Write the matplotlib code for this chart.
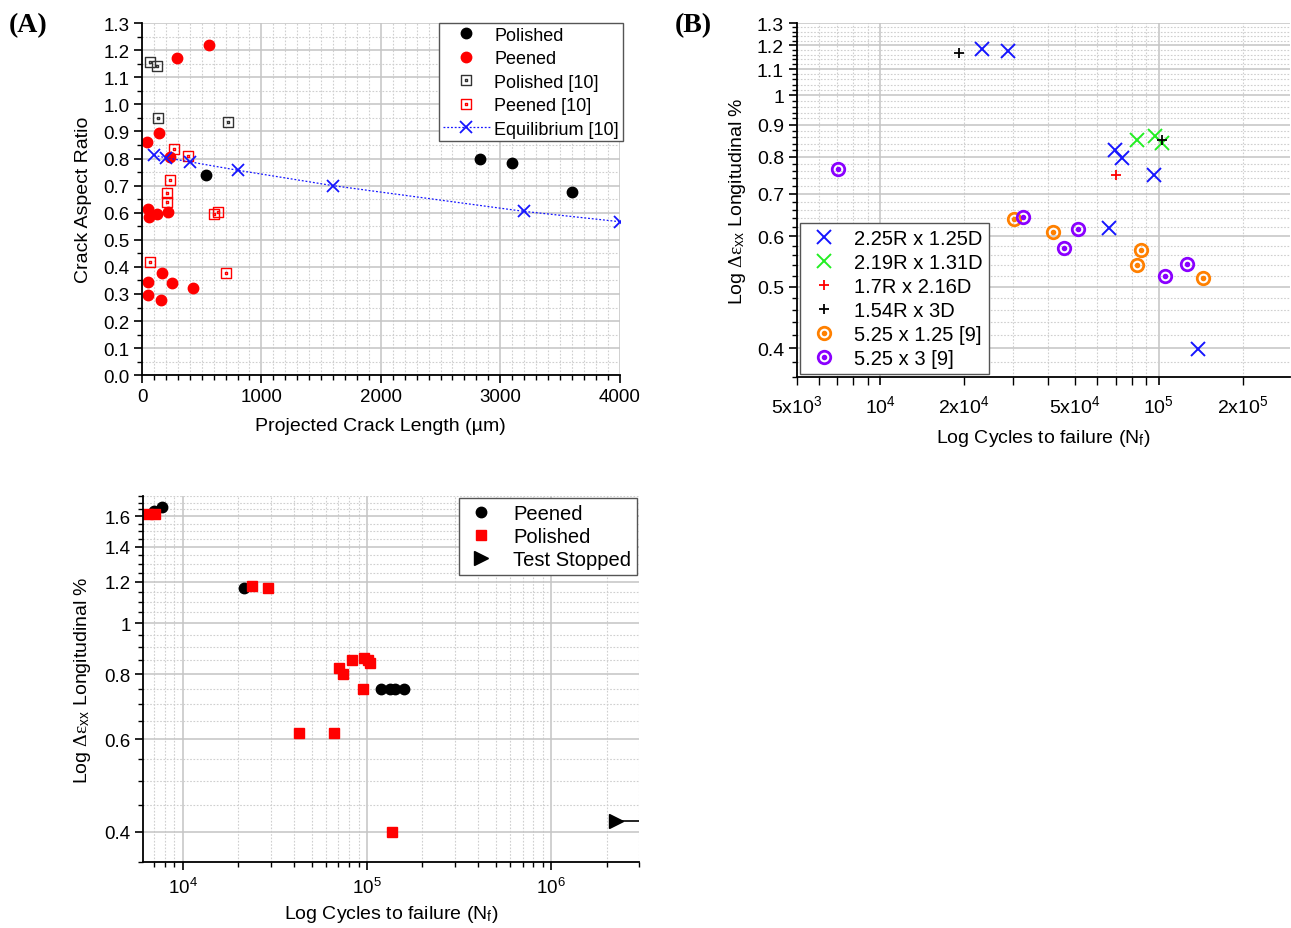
import numpy as np
import matplotlib
matplotlib.use("Agg")
import matplotlib.pyplot as plt
from matplotlib.path import Path
from matplotlib.ticker import MultipleLocator, NullFormatter

plt.rcParams['font.family'] = ['Liberation Sans', 'DejaVu Sans']
plt.rcParams['mathtext.fontset'] = 'custom'
plt.rcParams['mathtext.rm'] = 'Liberation Serif'
plt.rcParams['mathtext.it'] = 'Liberation Serif:italic'

# ---- panel A: crack aspect ratio vs projected crack length ----
pol_len = [536, 2830, 3100, 3600]
pol_ar = [0.74, 0.797, 0.783, 0.675]

pee_len = [561, 293, 145, 39, 234, 47, 59, 126, 220, 53, 47, 167, 254, 156, 424]
pee_ar = [1.22, 1.17, 0.893, 0.86, 0.807, 0.612, 0.586, 0.597, 0.604, 0.345,
          0.296, 0.377, 0.342, 0.276, 0.322]

pol10_len = [70, 123, 134, 717]
pol10_ar = [1.157, 1.143, 0.948, 0.934]

pee10_len = [268, 382, 234, 206, 206, 600, 636, 70, 703]
pee10_ar = [0.834, 0.81, 0.722, 0.673, 0.638, 0.597, 0.602, 0.418, 0.378]

eq_len = [100, 200, 400, 800, 1600, 3200, 4000]
eq_ar = [0.812, 0.803, 0.788, 0.757, 0.70, 0.605, 0.567]

# ---- panel B: strain range vs cycles to failure ----
b1_n = [23200, 28700, 69700, 73700, 95700, 66300, 138000]
b1_e = [1.183, 1.175, 0.820, 0.798, 0.750, 0.619, 0.398]
b2_n = [83300, 96500, 103000]
b2_e = [0.850, 0.862, 0.842]
b3_n = [70000]
b3_e = [0.750]
b4_n = [19200, 103000]
b4_e = [1.165, 0.850]
b5_n = [30200, 41600, 86400, 83300, 144000]
b5_e = [0.638, 0.609, 0.571, 0.540, 0.515]
b6_n = [7050, 32400, 51300, 45800, 126000, 105000]
b6_e = [0.766, 0.643, 0.615, 0.575, 0.542, 0.519]

# ---- panel C ----
c_peen_n = [7000, 7700, 21500, 119000, 133000, 142000, 159000]
c_peen_e = [1.64, 1.67, 1.166, 0.75, 0.75, 0.75, 0.75]
c_pol_n = [6500, 7100, 23700, 28900, 42700, 65800, 70400, 73700, 83200,
           96600, 101000, 104000, 95000, 137000]
c_pol_e = [1.615, 1.615, 1.178, 1.166, 0.618, 0.618, 0.82, 0.80, 0.85,
           0.86, 0.85, 0.84, 0.75, 0.40]
c_stop_n = [2.25e6]
c_stop_e = [0.419]

RED = '#ff0000'
BLUE = '#1515ff'
GREEN = '#22ee22'
ORANGE = '#ff8000'
PURPLE = '#8a00ff'

FS_TICK = 13.5
FS_LABEL = 14
FS_LEG = 13


def dotted_marker(outer):
    # outline marker with a small dot in the middle
    inner = Path(outer.vertices * 0.22, outer.codes)
    return Path.make_compound_path(outer, inner)


sq = Path([(-1, -1), (1, -1), (1, 1), (-1, 1), (-1, -1)],
          [Path.MOVETO, Path.LINETO, Path.LINETO, Path.LINETO, Path.CLOSEPOLY])
SQ_DOT = dotted_marker(sq)
CIRC_DOT = dotted_marker(Path.unit_circle())


def style_axes(ax):
    ax.set_axisbelow(True)
    for s in ['top', 'right']:
        ax.spines[s].set_visible(False)
    for s in ['left', 'bottom']:
        ax.spines[s].set_linewidth(1.3)
    ax.tick_params(which='major', direction='out', length=6, width=1.2,
                   labelsize=FS_TICK, pad=3)
    ax.tick_params(which='minor', direction='out', length=3.5, width=1.0)
    ax.grid(which='major', color='#c4c4c4', lw=1.1, ls='-')
    ax.grid(which='minor', color='#cfcfcf', lw=0.8, ls=(0, (1.5, 1.5)))


fig = plt.figure(figsize=(12.91, 9.29), dpi=100)

# panel A
axA = fig.add_axes([0.110, 0.595, 0.370, 0.379])
axA.plot(pol_len, pol_ar, 'o', color='black', ms=7.5, ls='none', label='Polished')
axA.plot(pee_len, pee_ar, 'o', color=RED, ms=7.5, ls='none', label='Peened')
axA.plot(pol10_len, pol10_ar, marker=SQ_DOT, ms=7, mfc='none', mec='#333333',
         mew=1.0, ls='none', label='Polished [10]')
axA.plot(pee10_len, pee10_ar, marker=SQ_DOT, ms=7, mfc='none', mec=RED,
         mew=1.0, ls='none', label='Peened [10]')
axA.plot(eq_len, eq_ar, marker='x', ms=9, mew=1.3, color=BLUE, lw=0.9,
         ls=(0, (1.5, 1.5)), label='Equilibrium [10]')
axA.set_xlim(0, 4000)
axA.set_ylim(0, 1.3)
axA.xaxis.set_major_locator(MultipleLocator(1000))
axA.xaxis.set_minor_locator(MultipleLocator(100))
axA.yaxis.set_major_locator(MultipleLocator(0.1))
axA.yaxis.set_minor_locator(MultipleLocator(0.05))
axA.yaxis.set_major_formatter(plt.FormatStrFormatter('%.1f'))
style_axes(axA)
axA.set_xlabel('Projected Crack Length (µm)', fontsize=FS_LABEL, labelpad=9)
axA.set_ylabel('Crack Aspect Ratio', fontsize=FS_LABEL, labelpad=8)
axA.legend(loc='upper right', bbox_to_anchor=(1.006, 1.0), fontsize=FS_LEG,
           frameon=True, fancybox=False, edgecolor='#555555', framealpha=1,
           borderpad=0.2, labelspacing=0.36, handlelength=2.6,
           handletextpad=0.25, borderaxespad=0)

# panel B
axB = fig.add_axes([0.617, 0.593, 0.382, 0.381])
axB.set_xscale('log')
axB.set_yscale('log')
axB.plot(b1_n, b1_e, 'x', color=BLUE, ms=10, mew=1.4, ls='none', label='2.25R x 1.25D')
axB.plot(b2_n, b2_e, 'x', color=GREEN, ms=10, mew=1.4, ls='none', label='2.19R x 1.31D')
axB.plot(b3_n, b3_e, '+', color=RED, ms=7, mew=1.3, ls='none', label='1.7R x 2.16D')
axB.plot(b4_n, b4_e, '+', color='black', ms=7, mew=1.3, ls='none', label='1.54R x 3D')
axB.plot(b5_n, b5_e, marker=CIRC_DOT, ms=9, mfc='none', mec=ORANGE, mew=2.0,
         ls='none', label='5.25 x 1.25 [9]')
axB.plot(b6_n, b6_e, marker=CIRC_DOT, ms=9, mfc='none', mec=PURPLE, mew=2.0,
         ls='none', label='5.25 x 3 [9]')
axB.set_xlim(5e3, 2.95e5)
axB.set_ylim(0.36, 1.3)
axB.set_xticks([1e4, 1e5], [r'$\mathregular{10^4}$', r'$\mathregular{10^5}$'])
bx_minor = [5e3, 6e3, 7e3, 8e3, 9e3, 2e4, 3e4, 4e4, 5e4, 6e4, 7e4, 8e4, 9e4, 2e5]
bx_minor_lab = {5e3: r'$\mathregular{5x10^3}$', 2e4: r'$\mathregular{2x10^4}$',
                5e4: r'$\mathregular{5x10^4}$', 2e5: r'$\mathregular{2x10^5}$'}
axB.set_xticks(bx_minor, [bx_minor_lab.get(v, '') for v in bx_minor], minor=True)
b_yt = [0.4, 0.5, 0.6, 0.7, 0.8, 0.9, 1.0, 1.1, 1.2, 1.3]
axB.set_yticks(b_yt, ['0.4', '0.5', '0.6', '0.7', '0.8', '0.9', '1', '1.1', '1.2', '1.3'])
axB.set_yticks(np.arange(0.36, 1.30, 0.02), minor=True)
axB.yaxis.set_minor_formatter(NullFormatter())
style_axes(axB)
axB.tick_params(axis='x', which='minor', length=6, pad=6, labelsize=14)
axB.tick_params(axis='x', which='major', pad=6, labelsize=14)
axB.tick_params(axis='y', labelsize=14)
axB.set_xlabel(r'Log Cycles to failure (N$_\mathregular{f}$)', fontsize=FS_LABEL, labelpad=8)
axB.set_ylabel(r'Log $\mathrm{\Delta\varepsilon}_\mathregular{xx}$ Longitudinal %',
               fontsize=FS_LABEL, labelpad=6)
axB.legend(loc='lower left', fontsize=14.5, frameon=True, fancybox=False,
           edgecolor='#555555', framealpha=1, borderpad=0.3, labelspacing=0.25,
           handlelength=1.8, handletextpad=0.6, borderaxespad=0.15)

# panel C
axC = fig.add_axes([0.111, 0.071, 0.384, 0.394])
axC.set_xscale('log')
axC.set_yscale('log')
axC.plot(c_peen_n, c_peen_e, 'o', color='black', ms=7.5, ls='none', label='Peened')
axC.plot(c_pol_n, c_pol_e, 's', color=RED, ms=7.5, ls='none', label='Polished')
xlim_c = (6.1e3, 3.0e6)
axC.plot([c_stop_n[0], xlim_c[1]], [c_stop_e[0], c_stop_e[0]], color='black', lw=1.2)
axC.plot(c_stop_n, c_stop_e, '>', color='black', ms=10, ls='none', label='Test Stopped')
axC.set_xlim(*xlim_c)
axC.set_ylim(0.35, 1.75)
axC.set_xticks([1e4, 1e5, 1e6], [r'$\mathregular{10^4}$', r'$\mathregular{10^5}$',
                                 r'$\mathregular{10^6}$'])
c_minor = [7e3, 8e3, 9e3, 2e4, 3e4, 4e4, 5e4, 6e4, 7e4, 8e4, 9e4,
           2e5, 3e5, 4e5, 5e5, 6e5, 7e5, 8e5, 9e5, 2e6, 3e6]
axC.set_xticks(c_minor, minor=True)
axC.xaxis.set_minor_formatter(NullFormatter())
axC.set_yticks([0.4, 0.6, 0.8, 1.0, 1.2, 1.4, 1.6], ['0.4', '0.6', '0.8', '1', '1.2', '1.4', '1.6'])
axC.set_yticks(np.arange(0.35, 1.76, 0.05), minor=True)
axC.yaxis.set_minor_formatter(NullFormatter())
style_axes(axC)
axC.tick_params(axis='x', which='major', pad=5)
axC.set_xlabel(r'Log Cycles to failure (N$_\mathregular{f}$)', fontsize=FS_LABEL, labelpad=4)
axC.set_ylabel(r'Log $\mathrm{\Delta\varepsilon}_\mathregular{xx}$ Longitudinal %',
               fontsize=FS_LABEL, labelpad=8)
axC.legend(loc='upper right', fontsize=14.5, frameon=True, fancybox=False,
           edgecolor='#555555', framealpha=1, borderpad=0.3, labelspacing=0.2,
           handlelength=1.6, handletextpad=0.8, borderaxespad=0.1)

fig.text(0.007, 0.972, '(A)', fontsize=20, fontweight='bold',
         family='Liberation Serif', va='center')
fig.text(0.523, 0.972, '(B)', fontsize=20, fontweight='bold',
         family='Liberation Serif', va='center')

fig.savefig('out.png', dpi=100)
